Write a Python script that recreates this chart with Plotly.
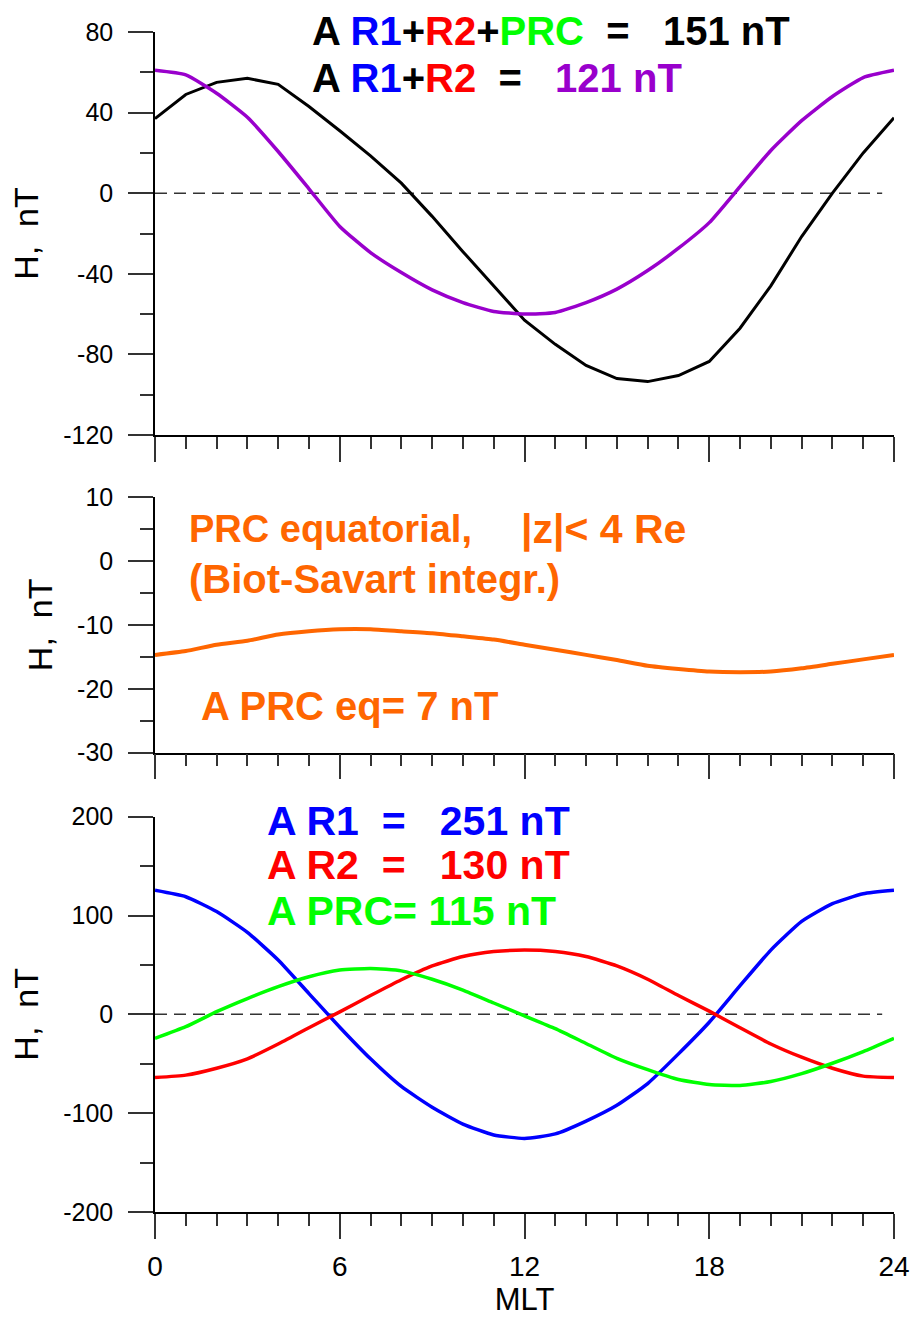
import plotly.graph_objects as go

# ---------------- data ----------------
mlt = list(range(25))

h_r1_r2_prc = [37, 49, 55, 57, 54, 43, 31, 18.5, 5, -11.5, -29, -46, -63,
               -75, -85.5, -92, -93.5, -90.5, -83.5, -67, -46, -21.5, 0, 20, 37.5]
h_r1_r2 = [61, 58.7, 49.6, 37.7, 20.7, 2.2, -16.5, -29.5, -39.4, -48, -54.3, -58.7, -60,
           -59.2, -54.3, -47.6, -38.4, -27.3, -14.6, 3.3, 21.2, 36, 48, 57.4, 61]
h_prc_eq = [-14.7, -14.1, -13.1, -12.5, -11.5, -11.0, -10.7, -10.7, -11.0, -11.3, -11.8, -12.3, -13.1,
            -13.9, -14.7, -15.5, -16.4, -16.9, -17.3, -17.4, -17.3, -16.8, -16.1, -15.4, -14.7]
h_r1 = [125.5, 119, 104, 83, 55, 21, -13, -45, -73, -94, -111, -122, -125.5,
        -121, -108, -92, -70, -40, -8, 29, 65, 94, 112, 122, 125.5]
h_r2 = [-64, -61.5, -54.5, -45, -30, -13.5, 2.5, 19, 35, 49, 58.5, 63.5, 65,
        63.5, 58.5, 49, 35.5, 19, 3.3, -13.6, -30, -43.4, -54.5, -62.5, -64]
h_prc = [-24.3, -12.5, 2.7, 16, 28, 38, 44.8, 46.5, 44, 35.5, 24.6, 11.5, -1.5,
         -14.5, -29.5, -44.5, -56, -66, -71, -72, -68, -60, -49.5, -37.7, -24.3]

x_ticks = [0, 6, 12, 18, 24]
x_ticktext = ["0", "6", "12", "18", "24"]
y1_ticks = [-120, -80, -40, 0, 40, 80]
y1_ticktext = ["-120", "-80", "-40", "0", "40", "80"]
y2_ticks = [-30, -20, -10, 0, 10]
y2_ticktext = ["-30", "-20", "-10", "0", "10"]
y3_ticks = [-200, -100, 0, 100, 200]
y3_ticktext = ["-200", "-100", "0", "100", "200"]

# ---------------- styling ----------------
FONT = "Liberation Sans, Arial, sans-serif"
W, H = 922, 1323
ML, MR, MT, MB = 155, 22, 32, 111
PW = W - ML - MR
PH = H - MT - MB


def py(ypx):
    return (H - MB - ypx) / PH


def px(xpx):
    return (xpx - ML) / PW


fig = go.Figure()

SPL = dict(shape="spline", smoothing=0.5)
fig.add_trace(go.Scatter(x=mlt, y=h_r1_r2_prc, mode="lines", line=dict(color="#000000", width=3),
                         xaxis="x", yaxis="y"))
fig.add_trace(go.Scatter(x=mlt, y=h_r1_r2, mode="lines", line=dict(color="#9900CC", width=3.5, **SPL),
                         xaxis="x", yaxis="y"))
fig.add_trace(go.Scatter(x=mlt, y=h_prc_eq, mode="lines", line=dict(color="#FF6600", width=4, **SPL),
                         xaxis="x2", yaxis="y2"))
fig.add_trace(go.Scatter(x=mlt, y=h_r1, mode="lines", line=dict(color="#0000FF", width=3.5, **SPL),
                         xaxis="x3", yaxis="y3"))
fig.add_trace(go.Scatter(x=mlt, y=h_r2, mode="lines", line=dict(color="#FF0000", width=3.5, **SPL),
                         xaxis="x3", yaxis="y3"))
fig.add_trace(go.Scatter(x=mlt, y=h_prc, mode="lines", line=dict(color="#00FF00", width=3.5, **SPL),
                         xaxis="x3", yaxis="y3"))


def xax(anchor, labels):
    return dict(range=[0, 24], tickvals=x_ticks, ticktext=x_ticktext, ticks="outside", ticklen=25,
                tickwidth=1.5, tickcolor="#333", showline=True, linecolor="#000", linewidth=1.5,
                showgrid=False, zeroline=False, showticklabels=labels, anchor=anchor, domain=[0, 1],
                tickfont=dict(family=FONT, size=28, color="#000"), ticklabelstandoff=4,
                minor=dict(dtick=1, tick0=0, ticks="outside", ticklen=12, tickwidth=1.5,
                           tickcolor="#333", showgrid=False))


def yax(anchor, dom, rng, tv, tt, mdt):
    return dict(range=rng, tickvals=tv, ticktext=tt, ticks="outside", ticklen=25, tickwidth=1.5,
                tickcolor="#333", showline=True, linecolor="#000", linewidth=1.5, showgrid=False,
                zeroline=False, anchor=anchor, domain=dom,
                tickfont=dict(family=FONT, size=25, color="#000"), ticklabelstandoff=10,
                title=dict(text="H,&nbsp;&nbsp;nT", font=dict(family=FONT, size=34, color="#000"), standoff=14),
                minor=dict(dtick=mdt, ticks="outside", ticklen=13, tickwidth=1.5, tickcolor="#333",
                           showgrid=False))


x3 = xax("y3", True)
x3["title"] = dict(text="MLT", font=dict(family=FONT, size=31, color="#000"), standoff=4)

fig.update_layout(
    width=W, height=H, autosize=False,
    margin=dict(l=ML, r=MR, t=MT, b=MB),
    paper_bgcolor="white", plot_bgcolor="white",
    showlegend=False,
    xaxis=xax("y", False),
    xaxis2=xax("y2", False),
    xaxis3=x3,
    yaxis=yax("x", [py(435), 1.0], [-120, 80], y1_ticks, y1_ticktext, 20),
    yaxis2=yax("x2", [py(752.7), py(497)], [-30, 10], y2_ticks, y2_ticktext, 5),
    yaxis3=yax("x3", [0, py(816.7)], [-200, 200], y3_ticks, y3_ticktext, 50),
)

for yr in ["y", "y3"]:
    fig.add_shape(type="line", xref=("x domain" if yr == "y" else "x3 domain"), yref=yr,
                  x0=0, x1=0.984, y0=0, y1=0, layer="below",
                  line=dict(color="#333", width=1.5, dash="12px,7px"))

BLUE, RED, GREEN, PURPLE, ORANGE = "#0000FF", "#FF0000", "#00FF00", "#9900CC", "#FF6600"
sp = "&nbsp;"


def ann(text, xpx, ypx, size, color="#000"):
    fig.add_annotation(text=text, xref="paper", yref="paper", x=px(xpx), y=py(ypx),
                       xanchor="left", yanchor="middle", showarrow=False,
                       font=dict(family=FONT, size=size, color=color))


def c(t, col):
    return f'<span style="color:{col}">{t}</span>'


ann("<b>A " + c("R1", BLUE) + "+" + c("R2", RED) + "+" + c("PRC", GREEN) + sp * 2 + "=" + sp * 3 + "151 nT</b>",
    311, 31, 40)
ann("<b>A " + c("R1", BLUE) + "+" + c("R2", RED) + sp * 2 + "=" + sp * 3 + c("121 nT", PURPLE) + "</b>",
    311, 77.5, 40)

ann("<b>PRC equatorial,</b>", 187, 529, 38, ORANGE)
ann("<b>|z|&lt; 4 Re</b>", 522, 529, 41, ORANGE)
ann("<b>(Biot-Savart" + sp + "integr.)</b>", 187, 579, 40, ORANGE)
ann("<b>A PRC eq= 7 nT</b>", 199, 706, 40, ORANGE)

ann("<b>A R1" + sp * 2 + "=" + sp * 3 + "251 nT</b>", 266, 821, 41, BLUE)
ann("<b>A R2" + sp * 2 + "=" + sp * 3 + "130 nT</b>", 266, 864.5, 41, RED)
ann("<b>A PRC= 115 nT</b>", 266, 911, 41, GREEN)

fig.write_html("out.html")
